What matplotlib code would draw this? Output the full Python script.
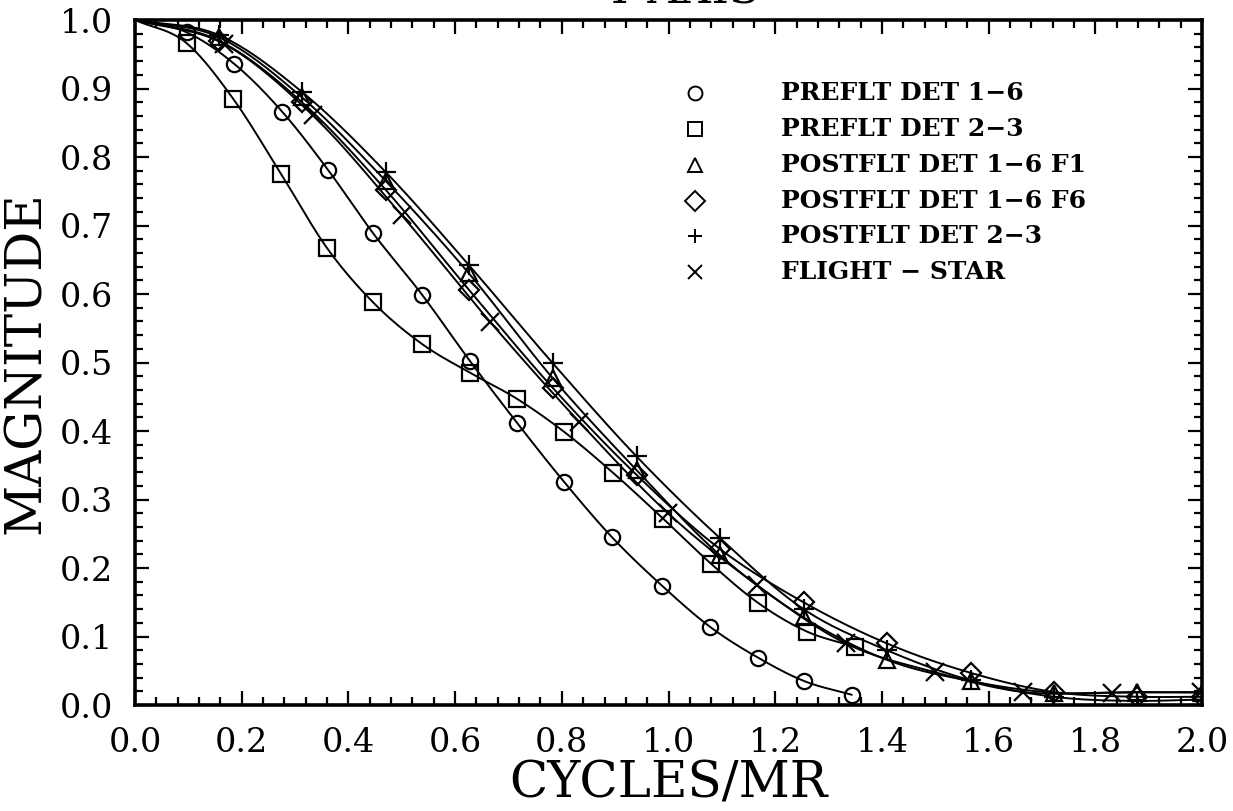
import numpy as np
import matplotlib
matplotlib.use("Agg")
import matplotlib.pyplot as plt
from matplotlib.ticker import MultipleLocator, FormatStrFormatter

# MTF curves: magnitude vs spatial frequency (cycles/mrad)
x_pre16 = [0.0, 0.097, 0.186, 0.276, 0.362, 0.446, 0.538, 0.628, 0.716, 0.804,
           0.894, 0.988, 1.078, 1.168, 1.254, 1.343]
y_pre16 = [1.0, 0.982, 0.936, 0.866, 0.781, 0.689, 0.599, 0.502, 0.412, 0.326,
           0.245, 0.174, 0.114, 0.069, 0.035, 0.015]

x_pre23 = [0.0, 0.097, 0.184, 0.274, 0.360, 0.446, 0.538, 0.628, 0.716, 0.804,
           0.896, 0.990, 1.080, 1.168, 1.260, 1.350]
y_pre23 = [1.0, 0.966, 0.885, 0.775, 0.667, 0.588, 0.527, 0.485, 0.447, 0.399,
           0.339, 0.272, 0.206, 0.149, 0.107, 0.085]

x_post = [0.0, 0.157, 0.313, 0.470, 0.626, 0.783, 0.940, 1.096, 1.253, 1.409,
          1.566, 1.722, 1.879, 2.0]
y_post16_f1 = [1.0, 0.975, 0.887, 0.765, 0.630, 0.477, 0.343, 0.219, 0.128, 0.066,
               0.035, 0.018, 0.019, 0.018]
y_post16_f6 = [1.0, 0.970, 0.880, 0.752, 0.606, 0.463, 0.336, 0.228, 0.150, 0.090,
               0.047, 0.019, 0.012, 0.012]
y_post23 = [1.0, 0.978, 0.895, 0.778, 0.642, 0.499, 0.363, 0.244, 0.140, 0.080,
            0.036, 0.012, 0.006, 0.008]

x_star = [0.0, 0.167, 0.333, 0.500, 0.666, 0.833, 0.999, 1.166, 1.332, 1.499,
          1.665, 1.832, 1.998]
y_star = [1.0, 0.965, 0.861, 0.715, 0.559, 0.413, 0.280, 0.175, 0.090, 0.048,
          0.019, 0.018, 0.019]

labels = ["PREFLT DET 1\u22126", "PREFLT DET 2\u22123", "POSTFLT DET 1\u22126 F1",
          "POSTFLT DET 1\u22126 F6", "POSTFLT DET 2\u22123", "FLIGHT \u2212 STAR"]
markers = ["o", "s", "^", "D", "+", "x"]
msizes = [11, 11, 11, 10, 15, 13]


def smooth(x, y, per=20):
    # cubic Hermite through the points, slopes from finite differences
    x = np.asarray(x, float)
    y = np.asarray(y, float)
    m = np.gradient(y, x)
    t = np.linspace(0, 1, per, endpoint=False)
    h00 = 2 * t**3 - 3 * t**2 + 1
    h10 = t**3 - 2 * t**2 + t
    h01 = -2 * t**3 + 3 * t**2
    h11 = t**3 - t**2
    xs, ys = [], []
    for i in range(len(x) - 1):
        h = x[i + 1] - x[i]
        xs.append(x[i] + t * h)
        ys.append(h00 * y[i] + h10 * h * m[i] + h01 * y[i + 1] + h11 * h * m[i + 1])
    xs.append([x[-1]])
    ys.append([y[-1]])
    return np.concatenate(xs), np.concatenate(ys)


series = [(x_pre16, y_pre16), (x_pre23, y_pre23), (x_post, y_post16_f1),
          (x_post, y_post16_f6), (x_post, y_post23), (x_star, y_star)]

plt.rcParams["font.family"] = "DejaVu Serif"

fig = plt.figure(figsize=(12.33, 8.11), dpi=100)
ax = fig.add_axes([0.1095, 0.1307, 0.8654, 0.8446])

for (xs, ys), mk, ms in zip(series, markers, msizes):
    sx, sy = smooth(xs, ys)
    ax.plot(sx, sy, color="black", lw=1.4)
    ax.plot(xs[1:], ys[1:], linestyle="none", marker=mk, ms=ms, mew=1.6,
            mfc="none", mec="black")

ax.set_xlim(0, 2.0)
ax.set_ylim(0, 1.0)
ax.xaxis.set_major_locator(MultipleLocator(0.2))
ax.xaxis.set_minor_locator(MultipleLocator(0.04))
ax.yaxis.set_major_locator(MultipleLocator(0.1))
ax.yaxis.set_minor_locator(MultipleLocator(0.02))
ax.xaxis.set_major_formatter(FormatStrFormatter("%.1f"))
ax.yaxis.set_major_formatter(FormatStrFormatter("%.1f"))
ax.tick_params(which="both", direction="in", top=True, right=True,
               width=1.6, labelsize=24, pad=16)
ax.tick_params(which="major", length=10)
ax.tick_params(which="minor", length=6)
for sp in ax.spines.values():
    sp.set_linewidth(2.6)

ax.set_xlabel("CYCLES/MR", fontsize=36, labelpad=0)
ax.set_ylabel("MAGNITUDE", fontsize=36, labelpad=6)

# legend: marker column and bold labels
for i, (lab, mk) in enumerate(zip(labels, markers)):
    yy = 0.894 - i * 0.0525
    ax.plot([0.525], [yy], transform=ax.transAxes, marker=mk, ms=10,
            mew=1.4, mfc="none", mec="black", linestyle="none")
    ax.text(0.605, yy, lab, transform=ax.transAxes, fontsize=18,
            fontweight="bold", va="center", ha="left")

fig.text(0.553, 0.985, "Y AXIS", fontsize=32, ha="center", va="bottom")

fig.savefig("out.png", dpi=100)
